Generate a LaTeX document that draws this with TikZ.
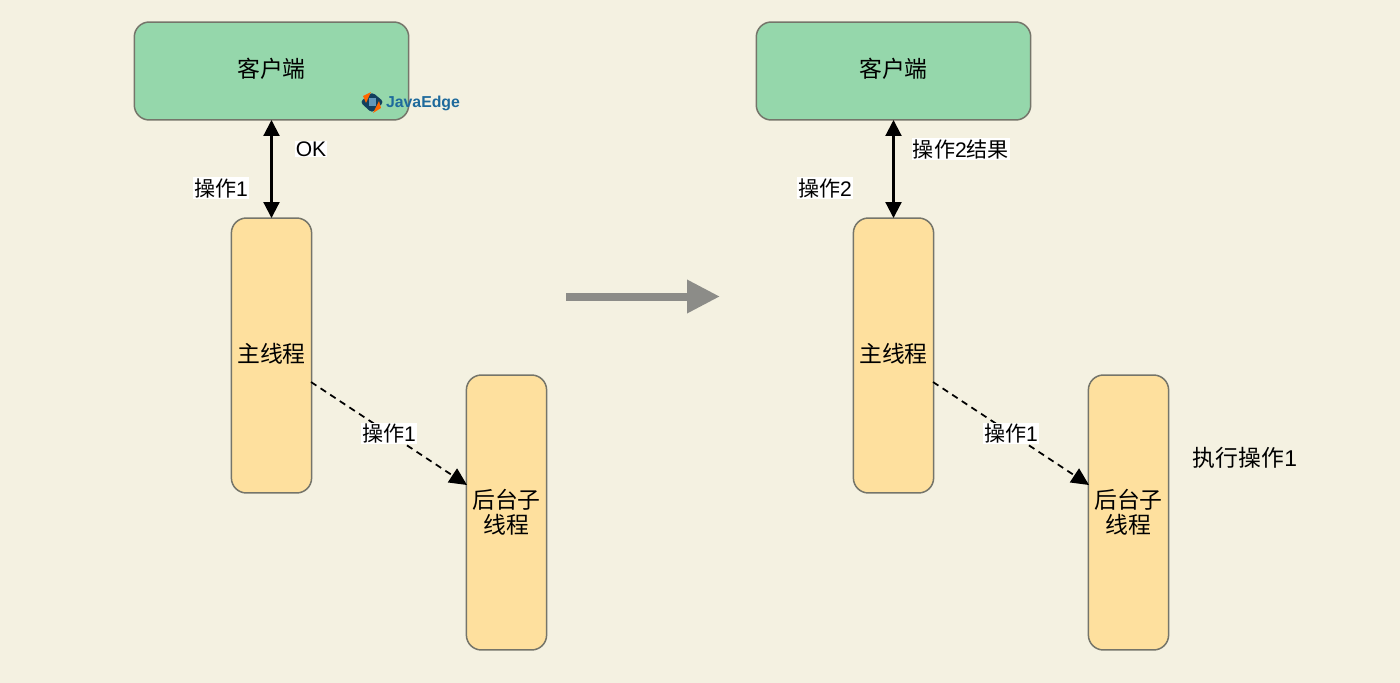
\documentclass[tikz,border=0pt]{standalone}
\usepackage{fontspec}
\setmainfont{Liberation Sans}
\newfontfamily\cjk{Noto Sans CJK SC}
\usetikzlibrary{arrows.meta}

\definecolor{bgpaper}{HTML}{F4F1E1}
\definecolor{clientgreen}{HTML}{95D7AB}
\definecolor{threadyellow}{HTML}{FEE09E}
\definecolor{boxedge}{HTML}{75756A}
\definecolor{bigarrow}{HTML}{8C8C88}
\definecolor{logoblue}{HTML}{1E6A9C}

\tikzset{
	clientbox/.style={draw=boxedge,fill=clientgreen,line width=0.03cm,rounded corners=0.3cm,minimum width=5.49cm,minimum height=1.96cm,outer sep=0pt,text height=11pt,text depth=4pt,font=\cjk\fontsize{13}{15}\selectfont},
	threadbox/.style={draw=boxedge,fill=threadyellow,line width=0.03cm,rounded corners=0.3cm,minimum width=1.55cm,minimum height=5.5cm,outer sep=0pt,align=center,font=\cjk\fontsize{13}{13}\selectfont},
	oneline/.style={text height=11pt,text depth=2.5pt},
	tag/.style={fill=white,inner sep=0.5pt,font=\fontsize{12}{14}\selectfont},
	bothway/.style={{Triangle[width=0.32cm,length=0.32cm]}-{Triangle[width=0.32cm,length=0.32cm]},line width=0.042cm},
	handoff/.style={-{Triangle[width=0.33cm,length=0.35cm]},dash pattern=on 0.13cm off 0.1cm,line width=0.035cm}
}

\begin{document}
\begin{tikzpicture}[x=0.02cm,y=-0.02cm]
	% háttér
	\fill[bgpaper] (0,0) rectangle (1400,683);
	\useasboundingbox (0,0) rectangle (1400,683);

	% bal oldal
	\node[clientbox] (client1) at (271.5,71) {客户端};
	\node[threadbox,oneline] (main1) at (271.5,355.5) {主线程};
	\node[threadbox] (back1) at (506.5,512.5) {后台子\\[1.5pt]线程};
	\coordinate (from1) at (311,382);
	\coordinate (to1) at (467,485);
	\draw[bothway] (client1.south) -- (main1.north);
	\draw[handoff] (from1) -- (to1) node[midway,tag] (job1) {{\cjk 操作}1};
	\node[tag] (ok1) at (311,149) {OK};
	\node[tag] (op1) at (221,188) {{\cjk 操作}1};

	% logó
	\fill[logoblue!60!black,rounded corners=2pt] (372,92) -- (384,102) -- (372,113) -- (360,102) -- cycle;
	\fill[orange!80!red] (363,96) -- (371,92) -- (366,103) -- cycle;
	\fill[orange!80!red] (381,108) -- (373,113) -- (379,101) -- cycle;
	\fill[logoblue!70!white] (369,98) -- (376,98) -- (376,106) -- (369,106) -- cycle;
	\node[logoblue,inner sep=0pt,font=\bfseries\fontsize{9}{11}\selectfont] (logo) at (423,103) {JavaEdge};

	% nyíl középen
	\coordinate (arrowstart) at (566,296.5);
	\coordinate (arrowend) at (720,296.5);
	\draw[bigarrow,line width=0.16cm,-{Triangle[width=0.63cm,length=0.66cm]}] (arrowstart) -- (arrowend);

	% jobb oldal
	\node[clientbox] (client2) at (893.5,71) {客户端};
	\node[threadbox,oneline] (main2) at (893.5,355.5) {主线程};
	\node[threadbox] (back2) at (1128.5,512.5) {后台子\\[1.5pt]线程};
	\coordinate (from2) at (933,382);
	\coordinate (to2) at (1089,485);
	\draw[bothway] (client2.south) -- (main2.north);
	\draw[handoff] (from2) -- (to2) node[midway,tag] (job2) {{\cjk 操作}1};
	\node[tag] (result2) at (961,149) {{\cjk 操作}2{\cjk 结果}};
	\node[tag] (op2) at (825,188) {{\cjk 操作}2};
	\node[font=\fontsize{13}{15}\selectfont,inner sep=0pt] (run2) at (1245,458) {{\cjk 执行操作}1};
\end{tikzpicture}
\end{document}
